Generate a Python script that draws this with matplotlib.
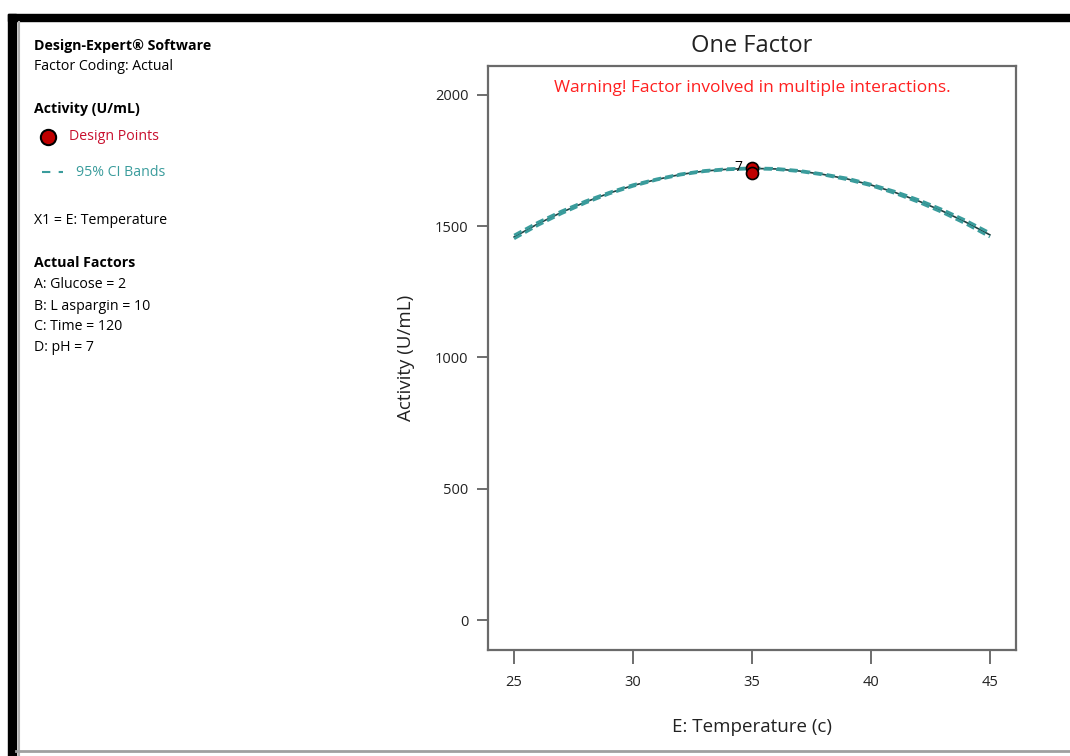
import matplotlib.pyplot as plt
from matplotlib.lines import Line2D
from matplotlib.patches import Rectangle

plt.rcParams["font.family"] = ["Open Sans", "DejaVu Sans"]

# model curve (E: Temperature vs predicted Activity)
temperature = [25, 26, 27, 28, 29, 30, 31, 32, 33, 34, 35,
               36, 37, 38, 39, 40, 41, 42, 43, 44, 45]
predicted = [1459, 1509, 1553, 1592, 1626, 1655, 1678, 1697, 1710, 1717, 1720,
             1718, 1710, 1697, 1680, 1657, 1629, 1596, 1558, 1515, 1467]
ci_lower = [1452, 1503, 1548, 1588, 1623, 1652, 1676, 1695, 1708, 1715, 1718,
            1716, 1708, 1695, 1677, 1654, 1625, 1591, 1552, 1508, 1459]
ci_upper = [1466, 1515, 1558, 1596, 1629, 1658, 1680, 1699, 1712, 1719, 1722,
            1720, 1712, 1699, 1683, 1660, 1633, 1601, 1564, 1522, 1475]

# design points (centre point replicated 7 times)
design_x = [35, 35]
design_y = [1722, 1703]
replicates = 7

x_ticks = [25, 30, 35, 40, 45]
y_ticks = [0, 500, 1000, 1500, 2000]

factor_lines = ["A: Glucose = 2", "B: L aspargin = 10", "C: Time = 120", "D: pH = 7"]

W, H = 1070, 756
TEAL = "#3a9c9c"
RED_TXT = "#c8102e"


def px(x, y):
    return x / W, 1 - y / H


fig = plt.figure(figsize=(W / 100, H / 100), dpi=100)
fig.patch.set_facecolor("white")

# window frame from the screenshot
fig.add_artist(Rectangle(px(8, 21), (W - 8) / W, 7 / H, transform=fig.transFigure,
                         color="black", zorder=0))
fig.add_artist(Rectangle(px(8, H), 8 / W, (H - 14) / H, transform=fig.transFigure,
                         color="black", zorder=0))
fig.add_artist(Line2D([19 / W, 19 / W], [0, 1 - 22 / H], transform=fig.transFigure,
                      color="#b0b0b0", lw=1.5))
fig.add_artist(Line2D([16 / W, 1], [1 - 751 / H, 1 - 751 / H], transform=fig.transFigure,
                      color="#a0a0a0", lw=2))

ax = fig.add_axes([px(488, 0)[0], px(0, 650)[1], (1016 - 488) / W, (650 - 66) / H])

ax.plot(temperature, predicted, color="#1f3f3f", lw=1.2, zorder=2)
ax.plot(temperature, ci_lower, color=TEAL, lw=2, ls=(0, (3, 1.5)), zorder=3)
ax.plot(temperature, ci_upper, color=TEAL, lw=2, ls=(0, (3, 1.5)), zorder=3)
ax.scatter(design_x, design_y, s=75, color="#c00000", edgecolor="black",
           linewidth=1.2, zorder=5)
ax.annotate(str(replicates), (design_x[0], design_y[0]), xytext=(-10, 0),
            textcoords="offset points", ha="center", va="center", fontsize=10, color="black")

ax.set_xlim(23.9, 46.1)
ax.set_ylim(-114, 2110)
ax.set_xticks(x_ticks)
ax.set_yticks(y_ticks)
ax.tick_params(axis="x", length=10, width=1.2, color="#555555", pad=8,
               labelsize=10.5, labelcolor="#222222")
ax.tick_params(axis="y", length=8, width=1.2, color="#555555", pad=6,
               labelsize=10.5, labelcolor="#222222")
for s in ax.spines.values():
    s.set_color("#6a6a6a")
    s.set_linewidth(1.6)

ax.set_xlabel("E: Temperature (c)", fontsize=13.5, color="#222222", labelpad=20)
ax.set_ylabel("Activity (U/mL)", fontsize=13.5, color="#222222", labelpad=14)
ax.set_title("One Factor", fontsize=17, color="#222222", pad=10)
ax.text(0.5, 0.962, "Warning! Factor involved in multiple interactions.",
        transform=ax.transAxes, ha="center", va="center", fontsize=12.5, color="#ff2020")

# left side info panel
fs = 10.2
fig.text(*px(34, 46), "Design-Expert® Software", fontsize=fs, weight="bold", va="center")
fig.text(*px(34, 67), "Factor Coding: Actual", fontsize=fs, va="center")
fig.text(*px(34, 109), "Activity (U/mL)", fontsize=fs, weight="bold", va="center")
fig.add_artist(Line2D([48 / W], [px(0, 137)[1]], transform=fig.transFigure, marker="o",
                      markersize=11, markerfacecolor="#c00000", markeredgecolor="black",
                      markeredgewidth=1.5))
fig.text(*px(69, 137), "Design Points", fontsize=fs, color=RED_TXT, va="center")
fig.add_artist(Line2D([42 / W, 63 / W], [px(0, 172)[1]] * 2, transform=fig.transFigure,
                      color=TEAL, lw=1.5, ls=(0, (4, 4))))
fig.text(*px(76, 172), "95% CI Bands", fontsize=fs, color=TEAL, va="center")
fig.text(*px(34, 221), "X1 = E: Temperature", fontsize=fs, va="center")
fig.text(*px(34, 263), "Actual Factors", fontsize=fs, weight="bold", va="center")
for i, line in enumerate(factor_lines):
    fig.text(*px(34, 285 + 21 * i), line, fontsize=fs, va="center")

fig.savefig("out.png", dpi=100)
